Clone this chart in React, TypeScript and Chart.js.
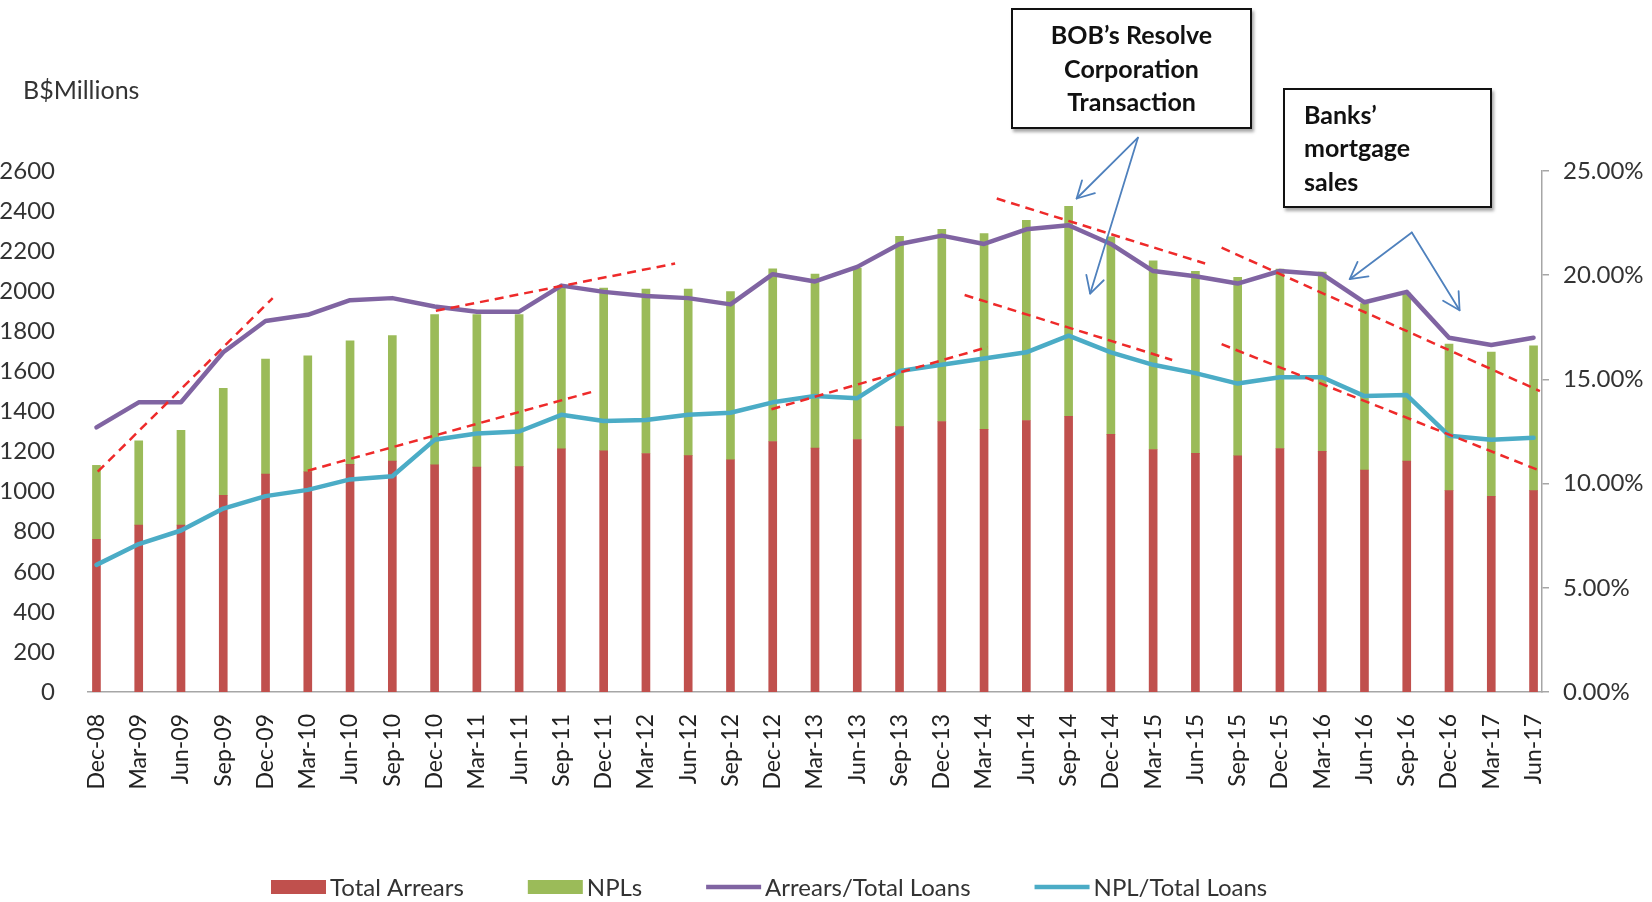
import React, { useEffect, useRef } from 'react';
import { Chart, registerables } from 'chart.js';

Chart.register(...registerables);

const categories = [
  'Dec-08', 'Mar-09', 'Jun-09', 'Sep-09', 'Dec-09', 'Mar-10', 'Jun-10', 'Sep-10', 'Dec-10',
  'Mar-11', 'Jun-11', 'Sep-11', 'Dec-11', 'Mar-12', 'Jun-12', 'Sep-12', 'Dec-12', 'Mar-13',
  'Jun-13', 'Sep-13', 'Dec-13', 'Mar-14', 'Jun-14', 'Sep-14', 'Dec-14', 'Mar-15', 'Jun-15',
  'Sep-15', 'Dec-15', 'Mar-16', 'Jun-16', 'Sep-16', 'Dec-16', 'Mar-17', 'Jun-17',
];

// B$ millions (red segment)
const totalArrears = [
  762, 833, 833, 982, 1087, 1099, 1136, 1152, 1134, 1122, 1125, 1213, 1204, 1190, 1180, 1159,
  1250, 1217, 1260, 1324, 1350, 1311, 1355, 1376, 1286, 1210, 1191, 1179, 1215, 1201, 1108,
  1152, 1005, 977, 1005,
];

// B$ millions (green segment, stacked on top)
const npls = [
  369, 420, 473, 534, 575, 579, 617, 627, 750, 762, 759, 803, 812, 821, 831, 839, 862, 869,
  856, 950, 959, 977, 999, 1048, 985, 942, 908, 890, 895, 895, 830, 839, 731, 719, 723,
];

// percent
const arrearsToLoans = [
  12.7, 13.9, 13.9, 16.3, 17.8, 18.1, 18.8, 18.9, 18.5, 18.25, 18.25, 19.5, 19.2, 19.0, 18.9,
  18.6, 20.05, 19.7, 20.4, 21.5, 21.9, 21.5, 22.2, 22.4, 21.5, 20.2, 19.95, 19.6, 20.2, 20.05,
  18.7, 19.2, 17.0, 16.65, 17.0,
];

// percent
const nplToLoans = [
  6.1, 7.1, 7.75, 8.8, 9.4, 9.7, 10.2, 10.35, 12.1, 12.4, 12.5, 13.3, 13.0, 13.05, 13.3, 13.4,
  13.9, 14.2, 14.1, 15.4, 15.7, 16.0, 16.3, 17.1, 16.3, 15.7, 15.3, 14.8, 15.1, 15.1, 14.2,
  14.25, 12.3, 12.1, 12.2,
];

const leftTickStep = 200;
const rightTickStep = 5;

// red dashed trend segments: [fromIndex, fromPct, toIndex, toPct]
const trendLines = [
  [0.03, 10.57, 4.17, 18.9],
  [8.03, 18.29, 13.69, 20.56],
  [5.0, 10.62, 11.74, 14.41],
  [15.97, 13.57, 21.09, 16.55],
  [21.3, 23.68, 26.23, 20.56],
  [20.54, 19.05, 25.45, 15.93],
  [26.62, 21.32, 34.15, 14.44],
  [26.62, 16.69, 34.15, 10.62],
];

// blue annotation arrows: source point and tips, in [index, pct]
const arrowGroups = [
  { from: [24.64, 26.6], tips: [[23.19, 23.68], [23.51, 19.12]] },
  { from: [31.12, 22.05], tips: [[29.65, 19.81], [32.25, 18.32]] },
];

const RED = '#C0504D';
const GREEN = '#9BBB59';
const PURPLE = '#8064A2';
const CYAN = '#4BACC6';
const TEXT = '#333333';

const overlayPlugin = {
  id: 'overlay',
  afterDatasetsDraw(chart: any) {
    const { ctx } = chart;
    const x = chart.scales.x;
    const y1 = chart.scales.y1;
    const px = (v: number) => x.getPixelForValue(v);
    const py = (v: number) => y1.getPixelForValue(v);
    ctx.save();
    ctx.strokeStyle = '#EE2A2A';
    ctx.lineWidth = 2.5;
    ctx.setLineDash([9, 6]);
    for (const [a, b, c, d] of trendLines) {
      ctx.beginPath();
      ctx.moveTo(px(a), py(b));
      ctx.lineTo(px(c), py(d));
      ctx.stroke();
    }
    ctx.setLineDash([]);
    ctx.strokeStyle = '#4F81BD';
    ctx.lineWidth = 1.8;
    ctx.lineCap = 'round';
    ctx.lineJoin = 'round';
    for (const g of arrowGroups) {
      const sx = px(g.from[0]);
      const sy = py(g.from[1]);
      for (const t of g.tips) {
        const tx = px(t[0]);
        const ty = py(t[1]);
        ctx.beginPath();
        ctx.moveTo(sx, sy);
        ctx.lineTo(tx, ty);
        ctx.stroke();
        const ang = Math.atan2(ty - sy, tx - sx);
        const L = 19;
        const spread = 0.5;
        ctx.beginPath();
        ctx.moveTo(tx - L * Math.cos(ang - spread), ty - L * Math.sin(ang - spread));
        ctx.lineTo(tx, ty);
        ctx.lineTo(tx - L * Math.cos(ang + spread), ty - L * Math.sin(ang + spread));
        ctx.stroke();
      }
    }
    ctx.restore();
  },
  afterDraw(chart: any) {
    const { ctx } = chart;
    ctx.save();
    ctx.font = '24px Lato';
    ctx.textBaseline = 'middle';
    ctx.textAlign = 'left';
    let cx = 271;
    const cy = 887;
    for (const ds of chart.data.datasets) {
      if (ds.type === 'line') {
        ctx.strokeStyle = ds.borderColor;
        ctx.lineWidth = 4.5;
        ctx.beginPath();
        ctx.moveTo(cx, cy);
        ctx.lineTo(cx + 55, cy);
        ctx.stroke();
      } else {
        ctx.fillStyle = ds.backgroundColor;
        ctx.fillRect(cx, cy - 7, 55, 14);
      }
      cx += 59;
      ctx.fillStyle = TEXT;
      ctx.fillText(ds.label, cx, cy + 1);
      cx += ctx.measureText(ds.label).width + 64;
    }
    ctx.restore();
  },
};

export default function App() {
  const canvasRef = useRef<HTMLCanvasElement | null>(null);

  useEffect(() => {
    if (!canvasRef.current) return;
    Chart.defaults.font.family = 'Lato';
    Chart.defaults.color = TEXT;
    const chart = new Chart(canvasRef.current, {
      type: 'bar',
      data: {
        datasets: [
          {
            type: 'bar',
            label: 'Total Arrears',
            data: totalArrears.map((v, i) => ({ x: i, y: v })),
            backgroundColor: RED,
            borderWidth: 0,
            barThickness: 8,
            stack: 'bars',
            yAxisID: 'y',
            order: 2,
          },
          {
            type: 'bar',
            label: 'NPLs',
            data: npls.map((v, i) => ({ x: i, y: v })),
            backgroundColor: GREEN,
            borderWidth: 0,
            barThickness: 8,
            stack: 'bars',
            yAxisID: 'y',
            order: 2,
          },
          {
            type: 'line',
            label: 'Arrears/Total Loans',
            data: arrearsToLoans.map((v, i) => ({ x: i, y: v })),
            borderColor: PURPLE,
            backgroundColor: PURPLE,
            borderWidth: 4.5,
            pointRadius: 0,
            tension: 0,
            borderJoinStyle: 'round',
            borderCapStyle: 'round',
            yAxisID: 'y1',
            order: 1,
          },
          {
            type: 'line',
            label: 'NPL/Total Loans',
            data: nplToLoans.map((v, i) => ({ x: i, y: v })),
            borderColor: CYAN,
            backgroundColor: CYAN,
            borderWidth: 4.5,
            pointRadius: 0,
            tension: 0,
            borderJoinStyle: 'round',
            borderCapStyle: 'round',
            yAxisID: 'y1',
            order: 1,
          },
        ] as any,
      },
      options: {
        animation: false,
        responsive: true,
        maintainAspectRatio: false,
        layout: { padding: { top: 171, left: 0, right: 0, bottom: 0 } },
        plugins: {
          legend: { display: false },
          tooltip: { enabled: false },
          title: { display: false },
        },
        scales: {
          x: {
            type: 'linear',
            min: -0.2,
            max: 34.2,
            offset: false,
            grid: { display: false },
            border: { display: true, color: '#A6A6A6', width: 1.5 },
            afterBuildTicks: (scale: any) => {
              scale.ticks = categories.map((_, i) => ({ value: i }));
            },
            afterFit: (scale: any) => {
              scale.height = 210;
            },
            ticks: {
              autoSkip: false,
              minRotation: 90,
              maxRotation: 90,
              padding: 14,
              color: '#222',
              font: { size: 23 },
              callback: (v: any) => categories[Math.round(Number(v))] ?? '',
            },
          },
          y: {
            type: 'linear',
            position: 'left',
            stacked: true,
            min: 0,
            max: 2600,
            grid: { display: false },
            border: { display: false },
            afterFit: (scale: any) => {
              scale.width = 88;
            },
            ticks: {
              stepSize: leftTickStep,
              padding: 25,
              color: TEXT,
              font: { size: 24 },
              callback: (v: any) => String(Math.round(Number(v))),
            },
          },
          y1: {
            type: 'linear',
            position: 'right',
            stacked: false,
            min: 0,
            max: 25,
            grid: {
              display: true,
              drawOnChartArea: false,
              drawTicks: true,
              tickLength: 7,
              color: '#A6A6A6',
              lineWidth: 1.5,
            },
            border: { display: true, color: '#A6A6A6', width: 1.5 },
            afterFit: (scale: any) => {
              scale.width = 110;
            },
            ticks: {
              stepSize: rightTickStep,
              padding: 14,
              color: TEXT,
              font: { size: 24 },
              callback: (v: any) => Number(v).toFixed(2) + '%',
            },
          },
        },
      } as any,
      plugins: [overlayPlugin],
    });
    return () => chart.destroy();
  }, []);

  const boxStyle: React.CSSProperties = {
    position: 'absolute',
    border: '2px solid #111',
    background: '#fff',
    boxShadow: '2px 3px 3px rgba(0,0,0,0.35)',
    fontFamily: 'Lato',
    fontWeight: 700,
    fontSize: 25,
    lineHeight: '33.5px',
    color: '#111',
    display: 'flex',
    flexDirection: 'column',
    justifyContent: 'center',
    boxSizing: 'border-box',
  };

  return (
    <div
      style={{
        position: 'fixed',
        left: 0,
        top: 0,
        width: 1652,
        height: 902,
        background: '#fff',
        overflow: 'hidden',
      }}
    >
      <canvas ref={canvasRef} style={{ position: 'absolute', left: 0, top: 0, width: 1652, height: 902 }} />
      <div
        style={{
          position: 'absolute',
          left: 23,
          top: 73,
          fontFamily: 'Lato',
          fontSize: 25,
          color: TEXT,
          lineHeight: '32px',
        }}
      >
        B$Millions
      </div>
      <div style={{ ...boxStyle, left: 1011, top: 8, width: 241, height: 121, alignItems: 'center', textAlign: 'center' }}>
        <div>BOB’s Resolve</div>
        <div>Corporation</div>
        <div>Transaction</div>
      </div>
      <div style={{ ...boxStyle, left: 1283, top: 88, width: 209, height: 120, paddingLeft: 19, textAlign: 'left' }}>
        <div>Banks’</div>
        <div>mortgage</div>
        <div>sales</div>
      </div>
    </div>
  );
}
